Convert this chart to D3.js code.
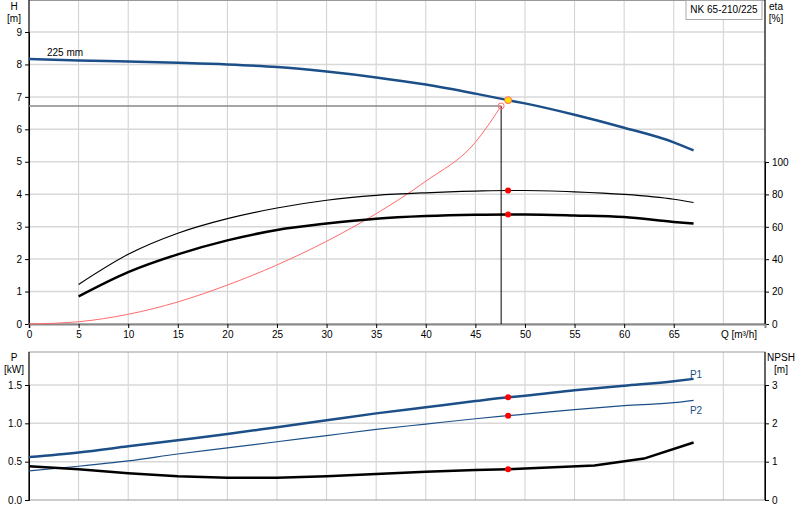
<!DOCTYPE html>
<html><head><meta charset="utf-8">
<script src="https://cdn.jsdelivr.net/npm/d3@7"></script>
<style>body{margin:0;background:#fff;font-family:"Liberation Sans",Arial,sans-serif;}</style>
</head><body><svg id="c" width="800" height="520"></svg>
<script>
const qH = [0,5,10,15,20,25,30,35,40,45,48.3,50,55,60,65,67];
const head = [8.17,8.12,8.09,8.05,8.0,7.92,7.78,7.6,7.38,7.1,6.9,6.8,6.45,6.05,5.6,5.35];
const qEta = [5,10,15,20,25,30,35,40,45,48.3,50,55,60,65,67];
const etaPump = [24.4,43,56,65,71.6,76.4,79.4,81,82,82.4,82.4,81.6,80,77,75];
const etaTotal = [17,32,43,51.6,58,62,65,66.6,67.4,67.6,67.6,67,66,63,62];
const qSys = [0,5,10,15,20,25,30,35,40,45,47.6];
const hSys = [0,0.07,0.3,0.68,1.2,1.82,2.55,3.4,4.4,5.6,6.72];
const qP = [0,5,10,15,20,25,30,35,40,45,48.3,50,55,60,65,67];
const p1 = [0.56,0.62,0.7,0.78,0.86,0.95,1.04,1.13,1.21,1.29,1.34,1.36,1.43,1.49,1.55,1.58];
const p2 = [0.38,0.44,0.51,0.6,0.68,0.76,0.84,0.92,0.99,1.06,1.1,1.12,1.18,1.23,1.27,1.3];
const qN = [0,5,10,15,20,25,30,35,40,45,48.3,50,57,62,67];
const npsh = [0.88,0.8,0.7,0.62,0.58,0.58,0.62,0.68,0.74,0.78,0.8,0.82,0.9,1.08,1.5];
const duty = {q: 48.3, h: 6.9, eta: 82.4, etaT: 67.6, p1: 1.34, p2: 1.1, npsh: 0.8};
const req = {q: 47.6, h: 6.72};
const qTicks = d3.range(0, 70, 5);
const hTicks = d3.range(0, 10, 1);
const etaTicks = [0,20,40,60,80,100];
const pTicks = [0,0.5,1.0,1.5];
const nTicks = [0,1,2,3];

const svg = d3.select('#c');
const L = 29, R = 765;
const x = d3.scaleLinear().domain([0, 74.2]).range([L, R]);
const yH = d3.scaleLinear().domain([0, 9]).range([324, 32]);
const yE = d3.scaleLinear().domain([0, 100]).range([324, 162]);
const yP = d3.scaleLinear().domain([0, 1.5]).range([500, 385]);
const yN = d3.scaleLinear().domain([0, 3]).range([500, 385]);
const fs = '10px';
const ff = 'Liberation Sans';

function grid(top, bot, ys, yt) {
  svg.append('g').selectAll('line').data(qTicks.slice(1).concat([70])).enter().append('line')
    .attr('x1', d => x(d)).attr('x2', d => x(d)).attr('y1', top).attr('y2', bot)
    .attr('stroke', '#d0d0d0');
  svg.append('g').selectAll('line').data(yt).enter().append('line')
    .attr('x1', L).attr('x2', R).attr('y1', d => ys(d)).attr('y2', d => ys(d))
    .attr('stroke', '#d8d8d8').attr('stroke-width', 1.5);
  svg.append('rect').attr('x', L).attr('y', top).attr('width', R - L).attr('height', bot - top)
    .attr('fill', 'none').attr('stroke', '#999');
}
grid(0.5, 324, yH, hTicks.slice(1).concat([10]));
grid(352, 500, yP, pTicks.slice(1));

function axis(gen, tx, ty) {
  const g = svg.append('g').attr('transform', `translate(${tx},${ty})`).call(gen);
  g.select('.domain').attr('stroke', '#000');
  g.selectAll('text').style('font-size', fs).style('font-family', ff);
  return g;
}
axis(d3.axisLeft(yH).tickValues(hTicks).tickSize(4).tickFormat(d3.format('d')), L, 0);
axis(d3.axisRight(yE).tickValues(etaTicks).tickSize(4), R, 0);
axis(d3.axisBottom(x).tickValues(qTicks).tickSize(4), 0, 324).select('.domain').attr('stroke', '#888').attr('stroke-width', 2);
axis(d3.axisLeft(yP).tickValues(pTicks).tickSize(4).tickFormat(d3.format('.1f')), L, 0);
axis(d3.axisRight(yN).tickValues(nTicks).tickSize(4).tickFormat(d3.format('d')), R, 0);
[[0, 324], [352, 500]].forEach(([a, b]) => {
  svg.append('line').attr('x1', L).attr('x2', L).attr('y1', a).attr('y2', b).attr('stroke', '#000');
  svg.append('line').attr('x1', R).attr('x2', R).attr('y1', a).attr('y2', b).attr('stroke', '#000');
});

function txt(t, tx, ty, anchor, col) {
  svg.append('text').attr('x', tx).attr('y', ty).attr('text-anchor', anchor || 'middle')
    .attr('fill', col || '#000').style('font-size', fs).style('font-family', ff).text(t);
}
txt('H', 14, 10); txt('[m]', 14, 22);
txt('eta', 776, 10); txt('[%]', 776, 22);
txt('Q [m³/h]', 757, 338, 'end');
txt('P', 14, 361); txt('[kW]', 14, 373);
txt('NPSH', 781, 361); txt('[m]', 781, 373);
txt('225 mm', 47, 56, 'start');
txt('P1', 696, 378, 'middle', '#1c4f87');
txt('P2', 696, 414, 'middle', '#1c4f87');
svg.append('rect').attr('x', 686).attr('y', 0.5).attr('width', 76).attr('height', 19)
  .attr('fill', '#fff').attr('stroke', '#aaa');
txt('NK 65-210/225', 724, 13);

const line = (xs, ys, sy, c) => d3.line().curve(c).x((d, i) => x(xs[i])).y((d, i) => sy(ys[i]))(ys);
function path(xs, ys, sy, col, w, c) {
  svg.append('path').attr('d', line(xs, ys, sy, c || d3.curveMonotoneX)).attr('fill', 'none').attr('stroke', col).attr('stroke-width', w);
}
svg.append('line').attr('x1', L).attr('x2', x(req.q)).attr('y1', yH(req.h)).attr('y2', yH(req.h)).attr('stroke', '#888').attr('stroke-width', 1.5);
svg.append('line').attr('x1', x(req.q)).attr('x2', x(req.q)).attr('y1', yH(req.h)).attr('y2', 324).attr('stroke', '#000');
path(qSys, hSys, yH, '#ff6b6b', 1);
path(qH, head, yH, '#1c4f87', 2.5);
path(qEta, etaPump, yE, '#000', 1.2);
path(qEta, etaTotal, yE, '#000', 2.5);
path(qP, p1, yP, '#1c4f87', 2.5);
path(qP, p2, yP, '#1c4f87', 1.2);
path(qN, npsh, yN, '#000', 2.5, d3.curveLinear);

function dot(q, v, sy, r, fill, stroke) {
  svg.append('circle').attr('cx', x(q)).attr('cy', sy(v)).attr('r', r).attr('fill', fill).attr('stroke', stroke || 'none');
}
dot(req.q, req.h, yH, 3, 'none', '#ff6b6b');
dot(duty.q, duty.h, yH, 3.5, '#ffe000', '#ff6b6b');
dot(duty.q, duty.eta, yE, 3, 'red');
dot(duty.q, duty.etaT, yE, 3, 'red');
dot(duty.q, duty.p1, yP, 3, 'red');
dot(duty.q, duty.p2, yP, 3, 'red');
dot(duty.q, duty.npsh, yN, 3, 'red');
</script></body></html>
